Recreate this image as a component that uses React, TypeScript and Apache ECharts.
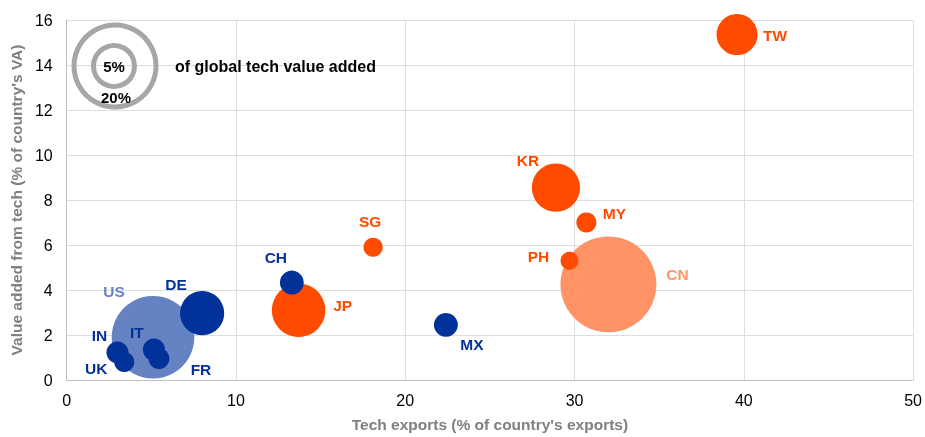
import React, { useEffect, useRef } from "react";
import * as echarts from "echarts";

// Data
const countries = ["US", "CN", "JP", "KR", "DE", "TW", "CH", "MX", "MY", "PH", "SG", "IN", "UK", "IT", "FR"];
const techExports = [5.1, 32.0, 13.7, 28.9, 8.0, 39.6, 13.3, 22.4, 30.7, 29.7, 18.1, 3.0, 3.4, 5.15, 5.45];
const techVA = [1.9, 4.25, 3.1, 8.55, 2.97, 15.35, 4.33, 2.45, 7.0, 5.3, 5.9, 1.22, 0.8, 1.35, 0.95];
const globalShare = [20.3, 27.4, 8.5, 6.9, 5.8, 5.0, 1.7, 1.7, 1.2, 0.95, 1.1, 1.45, 1.2, 1.45, 1.3];
const group = ["adv-big", "asia-big", "asia", "asia", "adv", "asia", "adv", "adv", "asia", "asia", "asia", "adv", "adv", "adv", "adv"];
const xTicks = [0, 10, 20, 30, 40, 50];
const yTicks = [0, 2, 4, 6, 8, 10, 12, 14, 16];

// Layout (label offsets in px from bubble centre)
const labelOffsets: Record<string, [number, number]> = {
  US: [-39, -46], CN: [69, -10], JP: [44, -5], KR: [-28, -27], DE: [-26, -29],
  TW: [38, 1], CH: [-16, -25], MX: [26, 20], MY: [28, -9], PH: [-31, -4],
  SG: [-3, -26], IN: [-18, -17], UK: [-28, 6], IT: [-17, -17], FR: [42, 11],
};

const COLORS: Record<string, string> = {
  "adv-big": "#6582C2",
  "asia-big": "#FF9366",
  asia: "#FF4B00",
  adv: "#003299",
};

const FONT = "Liberation Sans, Arial, sans-serif";
const R20 = 41; // radius in px of a 20% bubble

export default function App() {
  const ref = useRef<HTMLDivElement>(null);
  useEffect(() => {
    if (!ref.current) return;
    const chart = echarts.init(ref.current, undefined, { renderer: "svg" });
    const data = countries.map((c, i) => ({
      name: c,
      value: [techExports[i], techVA[i], globalShare[i]],
      itemStyle: { color: COLORS[group[i]], opacity: 1 },
      label: {
        show: true,
        position: "inside",
        offset: labelOffsets[c],
        formatter: c,
        color: COLORS[group[i]],
        fontWeight: "bold",
        fontSize: 15.5,
        fontFamily: FONT,
      },
    }));
    chart.setOption({
      animation: false,
      grid: { left: 63, right: 11, top: 20, bottom: 53, containLabel: false },
      xAxis: {
        type: "value",
        min: 0,
        max: 50,
        interval: 10,
        name: "Tech exports (% of country's exports)",
        nameLocation: "middle",
        nameGap: 36,
        nameTextStyle: { color: "#7f7f7f", fontWeight: "bold", fontSize: 15.5, fontFamily: FONT },
        axisLine: { show: true, lineStyle: { color: "#bfbfbf" } },
        axisTick: { show: false },
        axisLabel: { color: "#000", fontSize: 16, fontFamily: FONT, margin: 12, formatter: (v: number) => (xTicks.includes(v) ? String(v) : "") },
        splitLine: { show: true, lineStyle: { color: "#dedede" } },
      },
      yAxis: {
        type: "value",
        min: 0,
        max: 16,
        interval: 2,
        name: "Value added from tech (% of country's VA)",
        nameLocation: "middle",
        nameGap: 34,
        nameTextStyle: { color: "#7f7f7f", fontWeight: "bold", fontSize: 15.5, fontFamily: FONT },
        axisLine: { show: true, lineStyle: { color: "#bfbfbf" } },
        axisTick: { show: false },
        axisLabel: { color: "#000", fontSize: 16, fontFamily: FONT, margin: 14, formatter: (v: number) => (yTicks.includes(v) ? String(v) : "") },
        splitLine: { show: true, lineStyle: { color: "#dedede" } },
      },
      series: [
        {
          type: "scatter",
          data,
          symbolSize: (v: number[]) => 2 * R20 * Math.sqrt(v[2] / 20),
          emphasis: { disabled: true },
          z: 3,
        },
      ],
      graphic: [
        { type: "circle", shape: { cx: 115, cy: 66, r: 41 }, style: { fill: "none", stroke: "#a6a6a6", lineWidth: 5 }, z: 10 },
        { type: "circle", shape: { cx: 114, cy: 66, r: 20.5 }, style: { fill: "none", stroke: "#a6a6a6", lineWidth: 5 }, z: 10 },
        { type: "text", x: 114, y: 66, style: { text: "5%", fill: "#000", font: `bold 15px ${FONT}`, textAlign: "center", textVerticalAlign: "middle" }, z: 11 },
        { type: "text", x: 116, y: 97, style: { text: "20%", fill: "#000", font: `bold 15px ${FONT}`, textAlign: "center", textVerticalAlign: "middle" }, z: 11 },
        { type: "text", x: 175, y: 66, style: { text: "of global tech value added", fill: "#000", font: `bold 16px ${FONT}`, textAlign: "left", textVerticalAlign: "middle" }, z: 11 },
      ],
    });
    return () => chart.dispose();
  }, []);
  return <div ref={ref} style={{ position: "fixed", left: 0, top: 0, width: 925, height: 437 }} />;
}
